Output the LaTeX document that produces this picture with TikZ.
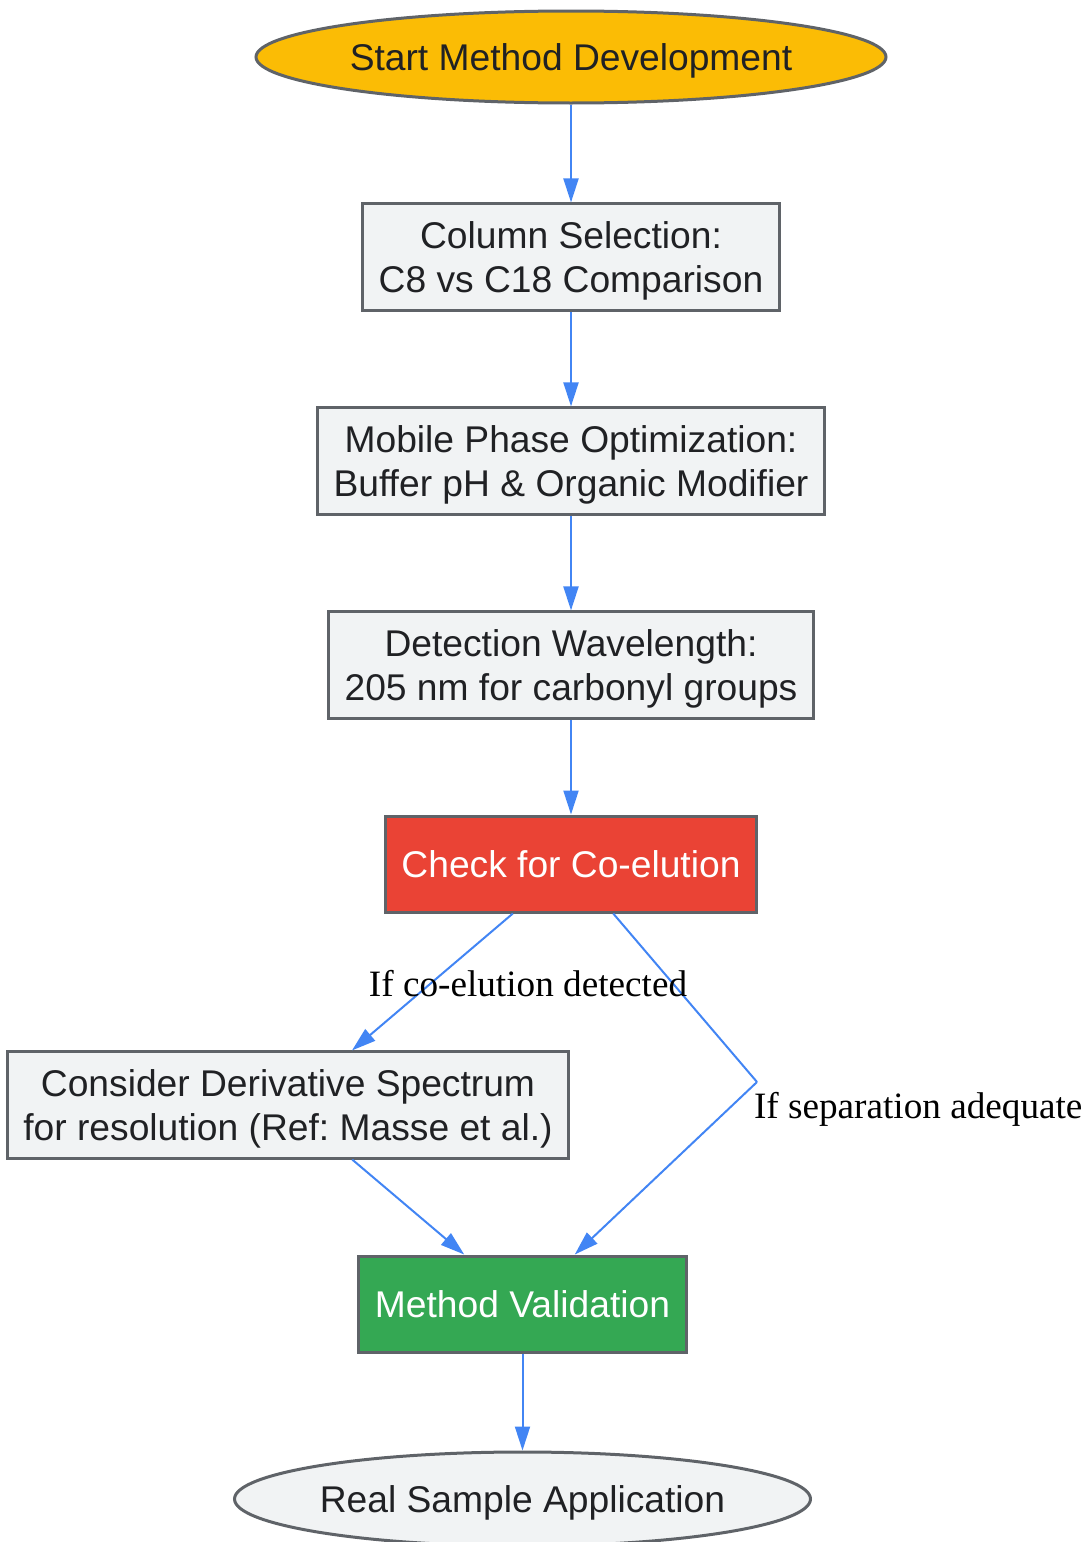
\documentclass[tikz,border=0pt]{standalone}
\usepackage{fontspec}
\setmainfont{Liberation Sans}
\newfontfamily\edgefont{Liberation Serif}
\usetikzlibrary{positioning,shapes.geometric,arrows.meta}
\definecolor{edgeblue}{HTML}{4285F4}
\definecolor{bordergray}{HTML}{5F6368}
\definecolor{boxgray}{HTML}{F1F3F4}
\definecolor{textdark}{HTML}{202124}
\definecolor{startyellow}{HTML}{FBBC05}
\definecolor{checkred}{HTML}{EA4335}
\definecolor{validgreen}{HTML}{34A853}
\newcommand{\nodefont}{\frenchspacing\fontsize{18.6}{21.6}\selectfont}
\newcommand{\labfont}{\edgefont\fontsize{18.6}{21.6}\selectfont}
\tikzset{every picture/.style={line width=1pt}}

\begin{document}
\begin{tikzpicture}[x=0.5pt, y=-0.5pt,
    box/.style={draw=bordergray, line width=1.5pt, rectangle, fill=boxgray, text=textdark, align=center, inner xsep=8pt, inner ysep=9pt, text depth=0pt, minimum height=48pt, font=\nodefont},
    oval/.style={draw=bordergray, line width=1.5pt, ellipse, fill=boxgray, text=textdark, align=center, inner sep=0pt, text depth=0pt, font=\nodefont},
    flow/.style={draw=edgeblue, line width=1pt, -{Triangle[length=12pt, width=7.5pt]}},
    lab/.style={text=black, font=\labfont, inner sep=0pt}]
    \useasboundingbox (0,0) rectangle (1086,1542);

    % Main chain
\node[oval, fill=startyellow, minimum width=315pt, minimum height=46pt] (start) at (571,57) {Start Method Development};
\node[box] (column) at (571,257) {Column Selection:\\C8 vs C18 Comparison};
\node[box] (mobile) at (571,461) {Mobile Phase Optimization:\\Buffer pH \& Organic Modifier};
\node[box] (detect) at (571,665) {Detection Wavelength:\\205 nm for carbonyl groups};
\node[box, fill=checkred, text=white] (check) at (571,864) {Check for Co-elution};

    % Branches
\node[box] (deriv) at (288,1105) {Consider Derivative Spectrum\\for resolution (Ref: Masse et al.)};
\node[box, fill=validgreen, text=white] (valid) at (522.5,1304) {Method Validation};
\node[oval, minimum width=288pt, minimum height=47pt] (real) at (522.5,1499) {Real Sample Application};
\coordinate (bend) at (757,1082);

    % Connections
    \draw[flow] (start) -- (column);
    \draw[flow] (column) -- (mobile);
    \draw[flow] (mobile) -- (detect);
    \draw[flow] (detect) -- (check);
    \draw[flow] (check) -- (deriv);
    \draw[flow, -] (check) -- (bend);
    \draw[flow] (bend) -- (valid);
    \draw[flow] (deriv) -- (valid);
    \draw[flow] (valid) -- (real);

    % Labels
    \node[lab] (coelut) at (528,984) {If co-elution detected};
    \node[lab, anchor=west] (adequate) at (753,1109) {If separation adequate};
\end{tikzpicture}
\end{document}
